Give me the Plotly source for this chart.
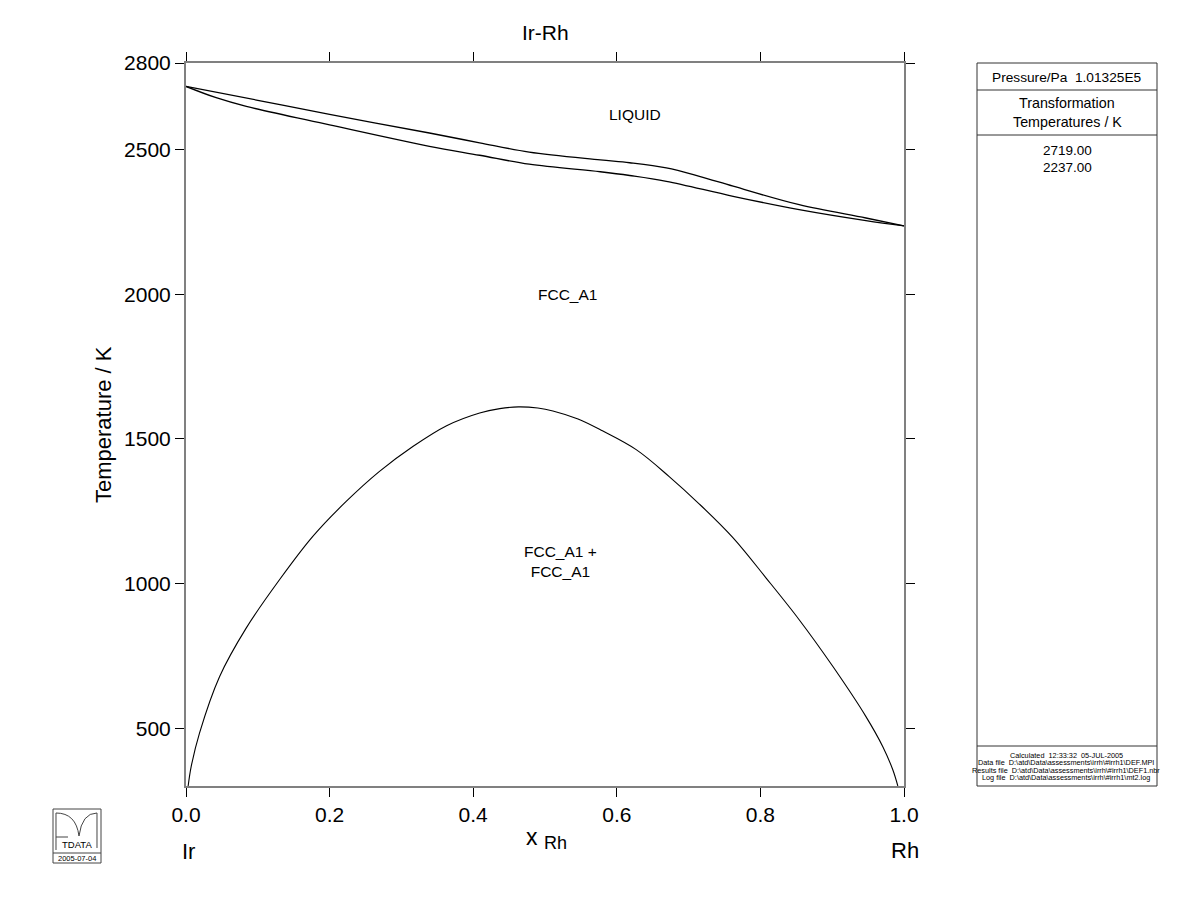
import plotly.graph_objects as go

# ---------------- data ----------------
liquidus_x = [0.0, 0.100, 0.200, 0.339, 0.409, 0.478, 0.577, 0.618, 0.669, 0.715, 0.762, 0.854, 0.947, 1.0]
liquidus_T = [2719, 2671, 2622, 2558, 2524, 2492, 2465, 2455, 2437, 2408, 2374, 2310, 2264, 2237]

solidus_x = [0.0, 0.042, 0.084, 0.200, 0.339, 0.409, 0.478, 0.577, 0.618, 0.669, 0.762, 0.854, 0.947, 1.0]
solidus_T = [2719, 2680, 2650, 2586, 2512, 2481, 2450, 2424, 2411, 2391, 2339, 2293, 2255, 2237]

gap_x = [0.003, 0.0072, 0.0188, 0.0467, 0.0838, 0.1302, 0.1766, 0.2231, 0.2695, 0.3159, 0.363,
         0.409, 0.437, 0.463, 0.490, 0.511, 0.546, 0.580, 0.627, 0.673, 0.715, 0.762, 0.808,
         0.854, 0.901, 0.947, 0.9705, 0.9844, 0.9914]
gap_T = [300, 367, 483, 678, 846, 1013, 1163, 1284, 1388, 1474, 1546,
         1590, 1605, 1611, 1607, 1597, 1569, 1528, 1463, 1370, 1275, 1158, 1019,
         875, 713, 540, 436, 356, 300]

x_ticks = [0.0, 0.2, 0.4, 0.6, 0.8, 1.0]
x_tick_text = ["0.0", "0.2", "0.4", "0.6", "0.8", "1.0"]
y_ticks = [500, 1000, 1500, 2000, 2500, 2800]
y_tick_text = ["500", "1000", "1500", "2000", "2500", "2800"]

phase_labels = ["LIQUID", "FCC_A1", "FCC_A1 +<br>FCC_A1"]
phase_x = [0.626, 0.531, 0.522]
phase_T = [2622, 2000, 1075]

transformation_temps = ["2719.00", "2237.00"]
info_lines = [
    "Calculated  12:33:32  05-JUL-2005",
    r"Data file  D:\atd\Data\assessments\irrh\#irrh1\DEF.MPI",
    r"Results file  D:\atd\Data\assessments\irrh\#irrh1\DEF1.nbr",
    r"Log file  D:\atd\Data\assessments\irrh\#irrh1\mt2.log",
]

# ---------------- layout helpers ----------------
W, H = 1200, 923
L, R, T, B = 186, 904, 63, 786
FONT = "Liberation Sans, Arial, sans-serif"


def px(x):
    return (x - L) / (R - L)


def py(y):
    return (B - y) / (B - T)


fig = go.Figure()
line_style = dict(color="black", width=1.3, shape="spline", smoothing=1.0)
fig.add_trace(go.Scatter(x=liquidus_x, y=liquidus_T, mode="lines", line=line_style, hoverinfo="skip"))
fig.add_trace(go.Scatter(x=solidus_x, y=solidus_T, mode="lines", line=line_style, hoverinfo="skip"))
fig.add_trace(go.Scatter(x=gap_x, y=gap_T, mode="lines",
                         line=dict(color="black", width=1.1, shape="spline", smoothing=1.0),
                         hoverinfo="skip"))

annotations = []
for lab, x, t in zip(phase_labels, phase_x, phase_T):
    annotations.append(dict(x=x, y=t, xref="x", yref="y", text=lab, showarrow=False,
                            font=dict(family=FONT, size=15.5, color="black"),
                            xanchor="center", yanchor="middle"))


def ann(x, y, text, size, **kw):
    d = dict(x=px(x), y=py(y), xref="paper", yref="paper", text=text, showarrow=False,
             font=dict(family=FONT, size=size, color="black"), xanchor="center", yanchor="middle")
    d.update(kw)
    annotations.append(d)


# title and axis labels
ann(545, 33, "Ir-Rh", 21)
ann(103, 425, "Temperature / K", 22, textangle=-90)
ann(532, 837, "x", 23)
ann(555, 843, "Rh", 18)
ann(188, 852, "Ir", 22)
ann(905, 851, "Rh", 22)

# right panel texts
NB = "\u00a0"
ann(1067, 77, "Pressure/Pa" + NB * 2 + "1.01325E5", 13.7)
ann(1067, 103, "Transformation", 14.3)
ann(1067, 122, "Temperatures / K", 14.3)
ann(1067, 150, transformation_temps[0], 13.5)
ann(1067, 167, transformation_temps[1], 13.5)
for i, line in enumerate(info_lines):
    ann(1066, 755 + i * 7.6, line.replace("  ", NB * 2), 7.3)

# logo texts
ann(77, 844, "TDATA", 9.5)
ann(77, 858, "2005-07-04", 7.5)

shapes = []


def rect(x0, y0, x1, y1, w=1, c="black"):
    shapes.append(dict(type="rect", xref="paper", yref="paper", x0=px(x0), y0=py(y0),
                       x1=px(x1), y1=py(y1), line=dict(color=c, width=w)))


def hline(x0, x1, y, w=1, c="black"):
    shapes.append(dict(type="line", xref="paper", yref="paper", x0=px(x0), y0=py(y),
                       x1=px(x1), y1=py(y), line=dict(color=c, width=w)))


def path(pts_cmds, w=1, c="black"):
    s = ""
    for cmd, pts in pts_cmds:
        s += cmd + " " + " ".join(f"{px(a):.5f},{py(b):.5f}" for a, b in pts) + " "
    shapes.append(dict(type="path", xref="paper", yref="paper", path=s.strip(),
                       line=dict(color=c, width=w)))


# right panel boxes
rect(977, 63, 1157, 786, w=1, c="#333")
hline(977, 1157, 90, c="#333")
hline(977, 1157, 135, c="#333")
hline(977, 1157, 746, c="#333")

# logo
rect(53, 809, 101, 863, w=1, c="#444")
hline(53, 101, 853, c="#444")
path([("M", [(56, 813)]), ("L", [(56, 850)])], c="#444")
path([("M", [(56, 813)]), ("Q", [(76, 813), (79, 836)]), ("Q", [(82, 813), (97, 813)]),
      ("L", [(97, 848)])], c="#444")
path([("M", [(56, 837)]), ("L", [(68, 837)])], c="#444")

fig.update_layout(
    width=W, height=H,
    margin=dict(l=L, r=W - R, t=T, b=H - B, pad=0),
    plot_bgcolor="white", paper_bgcolor="white",
    showlegend=False,
    annotations=annotations,
    shapes=shapes,
    font=dict(family=FONT, color="black"),
)
axis_common = dict(showgrid=False, zeroline=False, showline=True, linecolor="#808080", linewidth=2,
                   mirror="ticks", ticks="outside", ticklen=9, tickwidth=1, tickcolor="black",
                   tickfont=dict(family=FONT, size=21, color="black"))
fig.update_xaxes(range=[0, 1], tickvals=x_ticks, ticktext=x_tick_text, **axis_common)
fig.update_yaxes(range=[300, 2800], tickvals=y_ticks, ticktext=y_tick_text, **axis_common)

fig.write_html("out.html")
